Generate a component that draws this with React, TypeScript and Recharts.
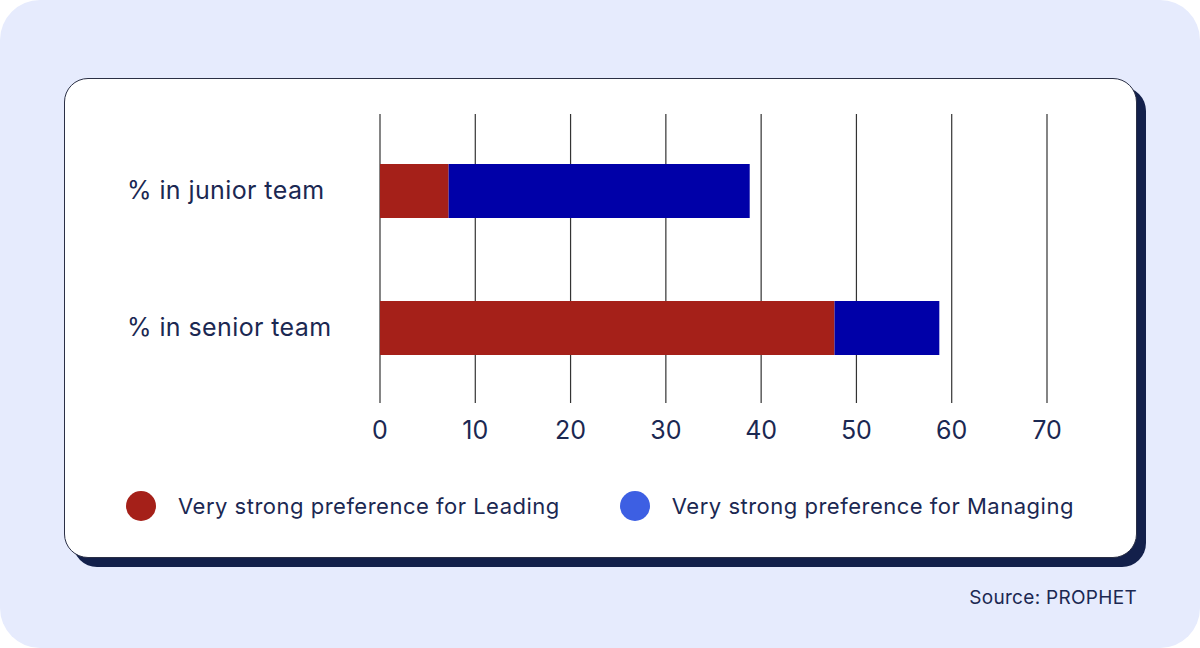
import { Bar, BarChart, CartesianGrid, XAxis, YAxis } from "recharts";

const teams = ["% in junior team", "% in senior team"];
const leading = [7.2, 47.7];
const managing = [31.6, 11.0];
const xTicks = [0, 10, 20, 30, 40, 50, 60, 70];

const seriesInfo = [
  { key: "leading", label: "Very strong preference for Leading", bar: "#A52019", dot: "#A52019" },
  { key: "managing", label: "Very strong preference for Managing", bar: "#0000A8", dot: "#3D5FE3" },
];

const data = teams.map((team, i) => ({
  team,
  leading: leading[i],
  managing: managing[i],
}));

const NAVY = "#1B2852";
const FONT = "Inter, 'Noto Sans', sans-serif";

const YTick = ({ y, payload }: any) => (
  <text
    x={127}
    y={y + 8}
    textAnchor="start"
    fill={NAVY}
    fontSize={25}
    letterSpacing={0.4}
    fontFamily={FONT}
  >
    {payload.value}
  </text>
);

const XTick = ({ x, payload }: any) => (
  <text x={x} y={439} textAnchor="middle" fill={NAVY} fontSize={25} fontFamily={FONT}>
    {payload.value}
  </text>
);

const ChartLegend = () => (
  <div
    style={{
      position: "absolute",
      left: 126,
      top: 491,
      display: "flex",
      alignItems: "center",
      fontFamily: FONT,
      color: NAVY,
      fontSize: 22,
      letterSpacing: 0.5,
    }}
  >
    {seriesInfo.map((s, i) => (
      <div
        key={s.key}
        style={{ display: "flex", alignItems: "center", marginLeft: i === 0 ? 0 : 60 }}
      >
        <span
          style={{
            width: 30,
            height: 30,
            borderRadius: "50%",
            background: s.dot,
            display: "inline-block",
            marginRight: 22,
          }}
        />
        <span>{s.label}</span>
      </div>
    ))}
  </div>
);

export default function App() {
  return (
    <div
      style={{
        position: "absolute",
        left: 0,
        top: 0,
        width: 1200,
        height: 648,
        background: "#ffffff",
      }}
    >
      <div
        style={{
          position: "absolute",
          inset: 0,
          background: "#E6EBFD",
          borderRadius: 40,
        }}
      />
      {/* card shadow */}
      <div
        style={{
          position: "absolute",
          left: 73,
          top: 87,
          width: 1073,
          height: 480,
          background: "#13204B",
          borderRadius: 24,
        }}
      />
      {/* card */}
      <div
        style={{
          position: "absolute",
          left: 64,
          top: 78,
          width: 1071,
          height: 478,
          background: "#ffffff",
          border: "1px solid #2a2f45",
          borderRadius: 24,
        }}
      />
      <div style={{ position: "absolute", left: 0, top: 0 }}>
        <BarChart
          width={1200}
          height={648}
          data={data}
          layout="vertical"
          margin={{ top: 114, right: 153, bottom: 195, left: 0 }}
        >
          <CartesianGrid horizontal={false} stroke="#333" strokeWidth={1.2} />
          <XAxis
            type="number"
            domain={[0, 70]}
            ticks={xTicks}
            axisLine={false}
            tickLine={false}
            tick={<XTick />}
            height={50}
          />
          <YAxis
            type="category"
            dataKey="team"
            width={380}
            axisLine={false}
            tickLine={false}
            tick={<YTick />}
            padding={{ top: 8, bottom: 7 }}
          />
          {seriesInfo.map((s) => (
            <Bar
              key={s.key}
              dataKey={s.key}
              stackId="pref"
              fill={s.bar}
              name={s.label}
              barSize={54}
              isAnimationActive={false}
            />
          ))}
        </BarChart>
      </div>
      <ChartLegend />
      <div
        style={{
          position: "absolute",
          right: 63,
          top: 586,
          fontFamily: FONT,
          fontSize: 19,
          letterSpacing: 0.3,
          color: NAVY,
        }}
      >
        Source: PROPHET
      </div>
    </div>
  );
}
